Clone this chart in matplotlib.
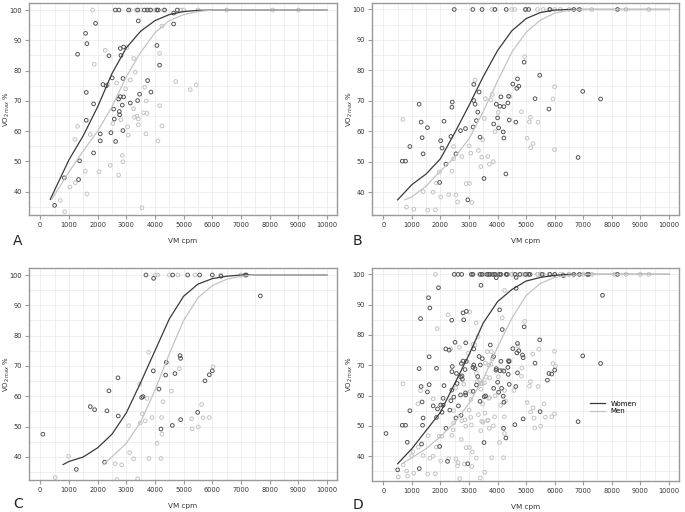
import numpy as np
from matplotlib import pyplot as plt
from matplotlib.ticker import MultipleLocator

# ---- panel A data ----
a_w_x = [1302, 1582, 1628, 1930, 1605, 1605, 1861, 1861, 1372, 1337, 837, 500, 2186, 2303, 2396, 2512,
         2559, 2582, 2093, 2093, 2466, 2628, 2733, 2791, 2768, 2756, 2814, 2791, 2907, 2884, 2907, 2884,
         2861, 3140, 3396, 3466, 3419, 3745, 3861, 4070, 4163, 4652, 4652,
         2617, 2745, 3082, 3396, 3628, 3733, 3850, 4070, 4117, 4338, 4780]
a_w_y = [85.4, 92.3, 88.9, 95.6, 72.8, 63.6, 69, 52.8, 50.2, 44, 44.6, 35.5, 75.4, 75, 84.9, 77.6,
         67.3, 64, 59.1, 56.8, 59.5, 56.6, 70.6, 71.4, 65.4, 66.5, 85, 87.3, 87.8, 77.4, 71.3, 60.2,
         68.6, 69.3, 70.1, 72.2, 96.4, 76.7, 72.9, 88.3, 81.8, 95.4, 99,
         100, 100, 100, 100, 100, 100, 100, 100, 100, 100, 100]
a_m_x = [1826, 1210, 1302, 1884, 2268, 2361, 1035, 1221, 698, 849, 1570, 1628, 2047, 1745, 2442, 2733,
         2861, 2884, 2535, 2814, 2663, 3024, 3140, 2977, 3047, 3070, 3256, 3291, 3256, 3315, 3373, 3419,
         3419, 3640, 3605, 3698, 3722, 3687, 3547, 4163, 4105, 4163, 4245, 4245, 4722, 5233, 5443,
         3140, 3350, 3500, 3800, 4000, 4300, 4900, 5000, 5500, 6500, 8100, 9000]
a_m_y = [100, 57.3, 61.6, 82.1, 86.7, 75.4, 41.5, 43, 37.1, 33.4, 46.8, 39.3, 46.6, 58.9, 48.7, 45.5,
         52, 49.9, 62.5, 63.8, 75.9, 87.6, 76.9, 74, 61.4, 58.7, 67.4, 64.6, 84, 79.5, 65, 64,
         62.1, 74.5, 66.1, 70, 65.9, 59.1, 34.7, 68.4, 56.8, 85.7, 61.7, 94.7, 76.4, 73.7, 75.3,
         100, 100, 100, 100, 100, 100, 100, 100, 100, 100, 100, 100]
a_cw_x = [350, 500, 1000, 1500, 2000, 2500, 3000, 3500, 4000, 4500, 5000, 5500, 6000, 10000]
a_cw_y = [37.5, 40.5, 50.5, 58.5, 68, 79, 87.5, 93, 96.5, 98.5, 99.5, 99.9, 100, 100]
a_cm_x = [400, 1000, 1500, 2000, 2500, 3000, 3500, 4000, 4500, 5000, 5500, 6000, 10000]
a_cm_y = [37.5, 46.5, 53.5, 60, 68, 78, 86, 92.5, 96.5, 98.5, 99.5, 100, 100]

# ---- panel B data ----
b_w_x = [661, 777, 928, 1253, 1322, 1357, 1392, 1543, 1972, 2007, 2053, 2123, 2192, 2366, 2401, 2413,
         2540, 2703, 2877, 2958, 3144, 3167, 3167, 3213, 3260, 3306, 3352, 3387, 3526, 3863, 4002, 4037,
         3956, 4083, 4118, 4222, 4199, 4222, 4292, 4385, 4362, 4408, 4536, 4675, 4698, 4744, 4640, 4930,
         5313, 5475, 5800, 6821, 6983, 7610,
         2482, 3132, 3457, 3909, 4304, 4976, 5092, 5835, 6670, 6867, 8201]
b_w_y = [50.2, 50.2, 55, 68.9, 63, 57.9, 52.6, 61.2, 43.2, 56.9, 54.5, 63.3, 49.2, 58.3, 67.9, 69.6,
         52.6, 60.2, 60.9, 37.5, 61.4, 75.4, 70.1, 68.9, 63.5, 66.3, 72.9, 58.1, 44.5, 62.4, 64.4, 61.1,
         68.9, 68.2, 71.3, 68.1, 59.8, 57.8, 46, 71.5, 69.3, 63.7, 75.5, 74.1, 77.2, 74.8, 63, 82.7,
         70.7, 78.4, 67.3, 51.4, 73.1, 70.6,
         100, 100, 100, 100, 100, 100, 100, 100, 100, 100, 100]
b_m_x = [684, 812, 1067, 1392, 1554, 1740, 1821, 1856, 1960, 2007, 2285, 2401, 2459, 2540, 2598, 2459,
         2749, 2900, 3016, 3004, 3062, 3097, 3213, 3329, 3410, 3445, 3480, 3538, 3573, 3654, 3712, 3770,
         3816, 3851, 3909, 4025, 4431, 4837, 4953, 5034, 5116, 5150, 5162, 5243, 5417, 5939, 5997, 5997,
         3800, 3900, 4500, 4600, 5000, 5400, 5600, 5800, 6000, 6200, 6500, 7300, 8500, 9300]
b_m_y = [63.9, 35.1, 34.4, 40.2, 34.1, 40, 34.2, 43, 46.6, 38.4, 39.2, 46.9, 51, 39.1, 36.8, 55,
         51.7, 42.8, 42.9, 55.2, 52.8, 36.6, 76.8, 53.7, 48.4, 51.5, 57.2, 64.2, 70.7, 51.7, 49.2, 70.3,
         72.1, 50, 59.9, 66.2, 71.4, 66.4, 84.5, 57.7, 63.1, 64.6, 54.6, 56, 63, 70.6, 74.6, 54,
         100, 100, 100, 100, 100, 100, 100, 100, 100, 100, 100, 100, 100, 100]
b_cw_x = [500, 1000, 1500, 2000, 2500, 3000, 3500, 4000, 4500, 5000, 5500, 6000, 6500, 10000]
b_cw_y = [37.5, 42.5, 46, 51, 59.5, 68.5, 78, 86.5, 93, 97, 99, 99.8, 100, 100]
b_cm_x = [750, 1000, 1500, 2000, 2500, 3000, 3500, 4000, 4500, 5000, 5500, 6000, 6500, 7000, 10000]
b_cm_y = [37.5, 38.5, 42, 47, 51.5, 57.5, 66.5, 76.5, 86, 92.5, 96.5, 98.8, 99.7, 100, 100]

# ---- panel C data ----
c_w_x = [93, 1256, 1745, 1896, 2326, 2396, 2710, 2721, 2245, 3582, 3536, 3943, 4140, 4210, 4373, 4396,
         4605, 4698, 4896, 4873, 4896, 5489, 5745, 5896, 6001, 7676, 3954,
         3687, 4617, 5140, 5559, 6001, 6303, 7150, 7187]
c_w_y = [47.5, 35.9, 56.6, 55.6, 55.2, 61.8, 66.1, 53.5, 38.3, 59.9, 59.6, 68.4, 62.4, 49.2, 67, 71.2,
         50.4, 67.5, 52.3, 73.4, 72.5, 54.7, 65.1, 67.1, 68.4, 93.1, 98.9,
         100, 100, 100, 100, 100, 99.6, 100, 100]
c_m_x = [523, 988, 3082, 3117, 3256, 3466, 3489, 3559, 3663, 3722, 3791, 3896, 4070, 4233, 4245, 4210,
         4280, 4571, 4850, 5280, 5303, 5512, 5629, 5675, 5896, 6024, 2617, 2838, 2675, 3396, 3780,
         4000, 4100, 4500, 4800, 5400, 6300, 7000]
c_m_y = [33.2, 40.2, 50.3, 41.4, 39.4, 64, 51.2, 54.2, 51.9, 59.3, 39.5, 53, 44.5, 53, 47.5, 39.5,
         58.2, 61.7, 69.1, 52.6, 49.3, 49.9, 57.3, 52.9, 53, 69.7, 37.8, 37.4, 32.6, 32.8, 74.5,
         100, 100, 100, 100, 100, 100, 100]
c_cw_x = [800, 1000, 1500, 2000, 2500, 3000, 3500, 4000, 4500, 5000, 5500, 6000, 6500, 7000, 10000]
c_cw_y = [37.5, 38.5, 40, 43, 47.5, 54.5, 64.5, 75, 85.5, 93, 97, 98.8, 99.6, 100, 100]
c_cm_x = [2200, 2500, 3000, 3500, 4000, 4500, 5000, 5500, 6000, 6500, 7000, 7500, 10000]
c_cm_y = [37.5, 40, 44.5, 51.5, 62, 74, 85, 92.5, 96.5, 98.6, 99.6, 100, 100]

# ---- panel D: all subjects (A + B + C) ----
d_w_x = a_w_x + b_w_x + c_w_x
d_w_y = a_w_y + b_w_y + c_w_y
d_m_x = a_m_x + b_m_x + c_m_x
d_m_y = a_m_y + b_m_y + c_m_y
d_cw_x = [500, 1000, 1500, 2000, 2500, 3000, 3500, 4000, 4500, 5000, 5500, 6000, 6500, 10000]
d_cw_y = [37.5, 42.5, 48.5, 54.5, 64, 73.5, 84, 91, 95, 97.8, 99, 99.7, 100, 100]
d_cm_x = [650, 1000, 1500, 2000, 2500, 3000, 3500, 4000, 4500, 5000, 5500, 6000, 6500, 7000, 10000]
d_cm_y = [37.5, 39.5, 42.5, 46.5, 51, 57.5, 65.5, 76, 85.5, 93, 97, 99, 99.7, 100, 100]

dark = '#3a3a3a'
light = '#c4c4c4'
edge = '#9a9a9a'

# name, axes rect, ylim, letter position (figure coords), data...
panels = [
    ('A', [0.042, 0.580, 0.450, 0.414], (32.3, 102.3), (0.019, 0.529),
     a_w_x, a_w_y, a_m_x, a_m_y, a_cw_x, a_cw_y, a_cm_x, a_cm_y),
    ('B', [0.543, 0.580, 0.448, 0.414], (32.5, 102.1), (0.515, 0.529),
     b_w_x, b_w_y, b_m_x, b_m_y, b_cw_x, b_cw_y, b_cm_x, b_cm_y),
    ('C', [0.042, 0.0625, 0.450, 0.414], (32.4, 102.3), (0.019, 0.016),
     c_w_x, c_w_y, c_m_x, c_m_y, c_cw_x, c_cw_y, c_cm_x, c_cm_y),
    ('D', [0.543, 0.0605, 0.448, 0.416], (31.8, 102.1), (0.515, 0.014),
     d_w_x, d_w_y, d_m_x, d_m_y, d_cw_x, d_cw_y, d_cm_x, d_cm_y),
]

fig = plt.figure(figsize=(6.85, 5.12), dpi=100)
for name, pos, ylim, lpos, wx, wy, mx, my, cwx, cwy, cmx, cmy in panels:
    ax = fig.add_axes(pos)
    ax.set_xlim(-400, 10350)
    ax.set_ylim(*ylim)
    ax.xaxis.set_major_locator(MultipleLocator(1000))
    ax.xaxis.set_minor_locator(MultipleLocator(500))
    ax.yaxis.set_major_locator(MultipleLocator(10))
    ax.yaxis.set_minor_locator(MultipleLocator(5))
    ax.set_yticks([40, 50, 60, 70, 80, 90, 100])
    ax.grid(True, which='both', color='#ececec', lw=0.6)
    ax.set_axisbelow(True)
    for s in ax.spines.values():
        s.set_color(edge)
        s.set_linewidth(1.0)
    ax.tick_params(which='major', direction='out', length=3, width=0.8, color=edge,
                   labelsize=4.8, labelcolor='#333333', pad=2)
    ax.tick_params(which='minor', length=0)
    ax.scatter(mx, my, s=7, facecolors='none', edgecolors=light, linewidths=0.7, zorder=2)
    ax.scatter(wx, wy, s=7, facecolors='none', edgecolors='#555555', linewidths=0.7, zorder=3)
    l1, = ax.plot(cwx, cwy, color=dark, lw=0.9, zorder=4)
    l2, = ax.plot(cmx, cmy, color=light, lw=0.9, zorder=4)
    ax.set_xlabel('VM cpm', fontsize=5.2, color='#333333', labelpad=7)
    ax.set_ylabel('VO$_{2\\,max}$ %', fontsize=5, color='#333333')
    ax.yaxis.set_label_coords(-0.056, 0.5)
    fig.text(lpos[0], lpos[1], name, fontsize=10, color='#222222', ha='left', va='center')
    if name == 'D':
        ax.legend([l1, l2], ['Women', 'Men'], loc='center left', bbox_to_anchor=(0.69, 0.345),
                  frameon=False, fontsize=5, handlelength=2.2, labelspacing=0.2,
                  handletextpad=0.8)

plt.savefig('out.png', dpi=100)
